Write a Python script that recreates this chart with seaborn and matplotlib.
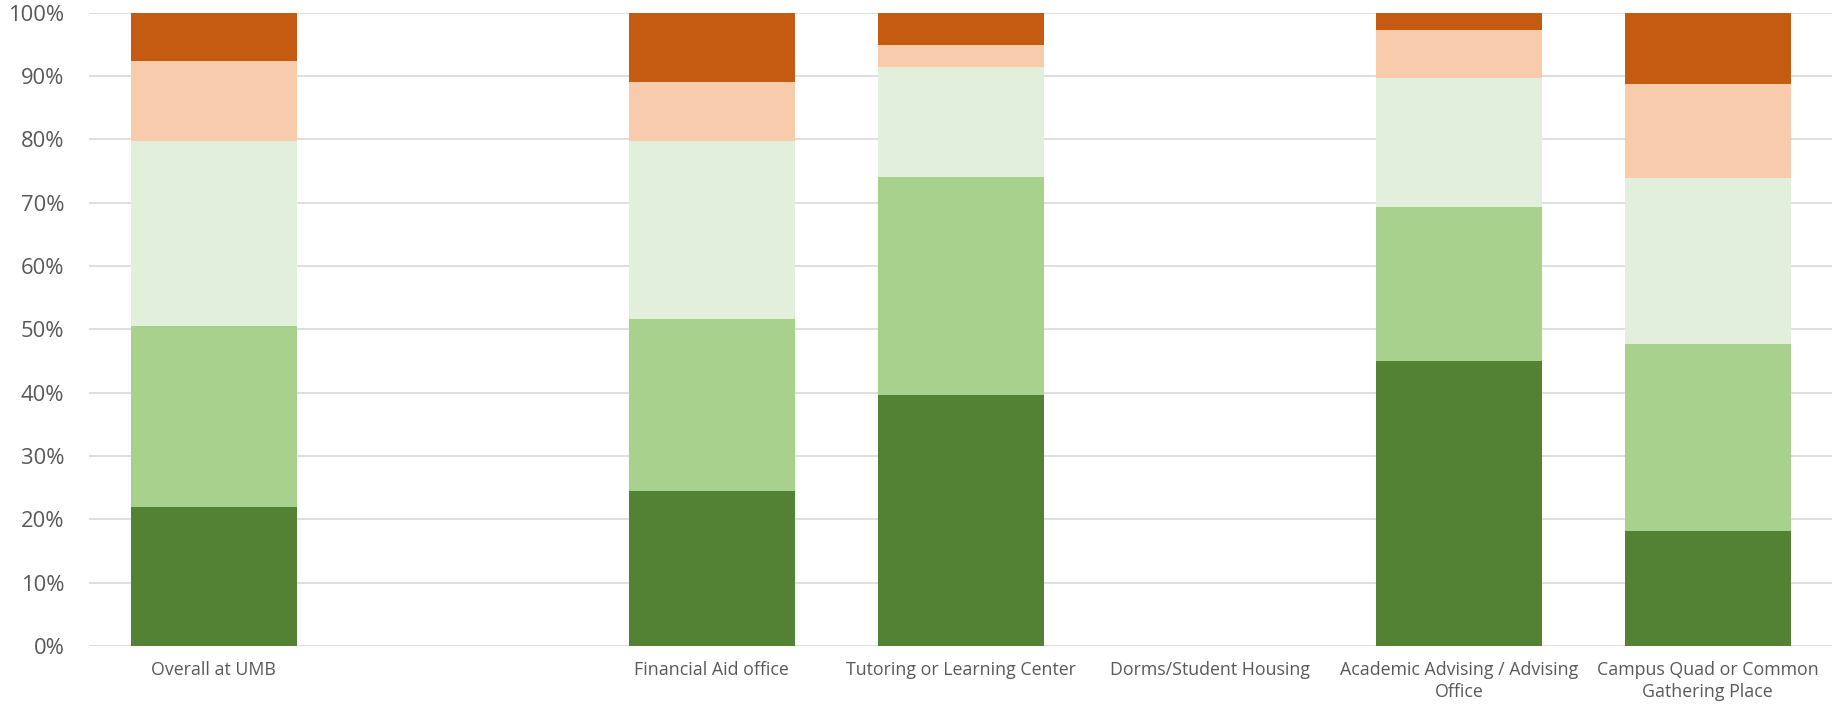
import numpy as np
import pandas as pd
import matplotlib
matplotlib.use("Agg")
import matplotlib.pyplot as plt
import seaborn as sns
from matplotlib.ticker import PercentFormatter

# categorias (una vacia entre Overall y Financial Aid)
categories = ["Overall at UMB", "", "Financial Aid office", "Tutoring or Learning Center",
              "Dorms/Student Housing", "Academic Advising / Advising\nOffice",
              "Campus Quad or Common\nGathering Place"]

# porcentajes por nivel, de abajo hacia arriba
very_positive = [22.0, 0, 24.4, 39.6, 0, 45.0, 18.1]
positive = [28.5, 0, 27.3, 34.5, 0, 24.3, 29.6]
neutral = [29.3, 0, 28.0, 17.3, 0, 20.4, 26.2]
negative = [12.6, 0, 9.3, 3.5, 0, 7.5, 14.8]
very_negative = [7.6, 0, 11.0, 5.1, 0, 2.8, 11.3]

levels = ["Very positive", "Positive", "Neutral", "Negative", "Very negative"]
colors = ["#548235", "#A9D18E", "#E2EFDA", "#F8CBAD", "#C55A11"]

df = pd.DataFrame({"categoria": categories,
                   "Very positive": very_positive, "Positive": positive,
                   "Neutral": neutral, "Negative": negative,
                   "Very negative": very_negative})
cum = df[levels].cumsum(axis=1)

sns.set_style("white")
plt.rcParams["font.family"] = ["Open Sans", "DejaVu Sans"]

fig = plt.figure(figsize=(18.33, 7.06), dpi=100)
ax = fig.add_axes([89.3 / 1833, 1 - 646 / 706, 1743 / 1833, 633.3 / 706])

# dibujar acumulados de arriba hacia abajo para que se apilen
for lvl, col in reversed(list(zip(levels, colors))):
    sns.barplot(x=df["categoria"], y=cum[lvl], order=categories, color=col,
                saturation=1, width=0.667, ax=ax, linewidth=0)

ax.set_xlim(-0.5, len(categories) - 0.5)
ax.set_ylim(0, 100)
ax.set_yticks(np.arange(0, 101, 10))
ax.yaxis.set_major_formatter(PercentFormatter(decimals=0))
ax.grid(axis="y", color="#D9D9D9", linewidth=1.2)
ax.set_axisbelow(True)
for s in ax.spines.values():
    s.set_visible(False)
ax.set_xlabel("")
ax.set_ylabel("")
ax.tick_params(axis="both", length=0, colors="#595959")
ax.tick_params(axis="x", pad=11, labelsize=12.8)
ax.tick_params(axis="y", pad=18, labelsize=15.8)
for t in ax.get_xticklabels():
    t.set_linespacing(1.25)

fig.savefig("out.png", dpi=100)
